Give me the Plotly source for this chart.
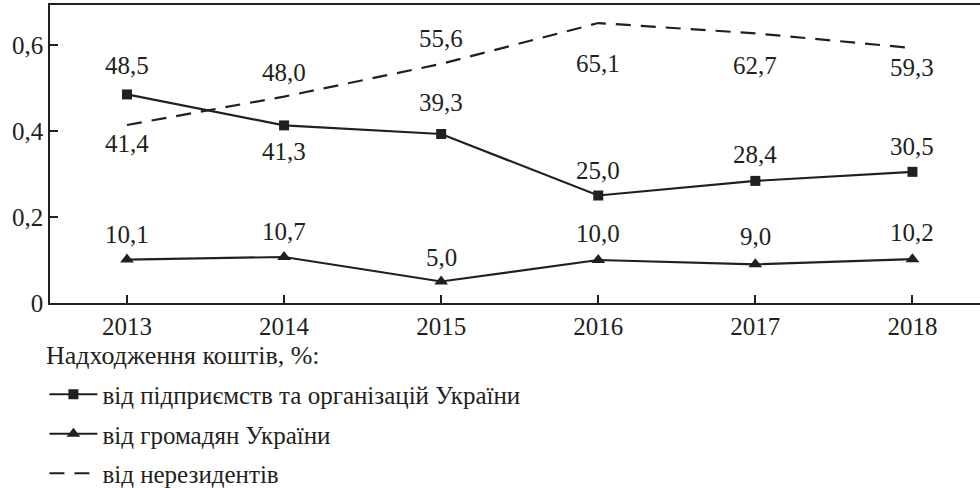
import plotly.graph_objects as go

years = [2013, 2014, 2015, 2016, 2017, 2018]
enterprises = [48.5, 41.3, 39.3, 25.0, 28.4, 30.5]
citizens = [10.1, 10.7, 5.0, 10.0, 9.0, 10.2]
nonresidents = [41.4, 48.0, 55.6, 65.1, 62.7, 59.3]

# vertical offsets of the value labels (px, positive = up)
shift_enterprises = [29, -26, 32, 25, 26, 25]
shift_citizens = [25, 25, 24, 27, 28, 27]
shift_nonresidents = [-19, 24, 25, -40, -32, -19]

ink = '#231f20'
font = 'Liberation Serif, Times New Roman, serif'


def label(v):
    return ('%.1f' % v).replace('.', ',')


fig = go.Figure()
fig.add_trace(go.Scatter(
    x=years, y=[v / 100 for v in enterprises], mode='lines+markers',
    name='від підприємств та організацій України', legendgroup='a',
    line=dict(color=ink, width=2.2), marker=dict(symbol='square', size=10, color=ink)))
fig.add_trace(go.Scatter(
    x=years, y=[v / 100 for v in citizens], mode='lines+markers',
    name='від громадян України', legendgroup='b',
    line=dict(color=ink, width=2.2), marker=dict(symbol='triangle-up', size=12, color=ink)))
fig.add_trace(go.Scatter(
    x=years, y=[v / 100 for v in nonresidents], mode='lines',
    name='від нерезидентів', legendgroup='c',
    line=dict(color=ink, width=2.2, dash='15px,10px')))

for values, shifts in [(enterprises, shift_enterprises),
                       (citizens, shift_citizens),
                       (nonresidents, shift_nonresidents)]:
    for x, v, s in zip(years, values, shifts):
        fig.add_annotation(x=x, y=v / 100, text=label(v), showarrow=False,
                           yshift=s, font=dict(family=font, size=25, color=ink))

fig.add_annotation(xref='paper', yref='paper', x=-0.006, y=-0.1745,
                   xanchor='left', yanchor='middle', showarrow=False,
                   text='Надходження коштів, %:', font=dict(family=font, size=26, color=ink))

fig.update_layout(
    width=980, height=488,
    margin=dict(l=50, r=0, t=5, b=185, autoexpand=False),
    plot_bgcolor='white', paper_bgcolor='white',
    font=dict(family=font, size=25, color=ink),
    showlegend=True,
    legend=dict(
        x=-0.006, xanchor='left', y=-0.2299, yanchor='top',
        font=dict(family=font, size=25, color=ink),
        tracegroupgap=4, itemwidth=48, bgcolor='rgba(0,0,0,0)'),
    xaxis=dict(
        range=[2012.51, 2018.43], tickvals=years, ticktext=[str(y) for y in years],
        showgrid=False, zeroline=False, showline=True, linecolor=ink, linewidth=1.5,
        mirror=True, ticks='inside', ticklen=8, tickcolor=ink, tickwidth=1.5),
    yaxis=dict(
        range=[0, 0.693], tickvals=[0, 0.2, 0.4, 0.6], ticktext=['0', '0,2', '0,4', '0,6'],
        showgrid=False, zeroline=False, showline=True, linecolor=ink, linewidth=1.5,
        ticks='inside', ticklen=8, tickcolor=ink, tickwidth=1.5),
)

fig.write_html('out.html', config={'displayModeBar': False},
               post_script="document.body.style.margin='0';")
